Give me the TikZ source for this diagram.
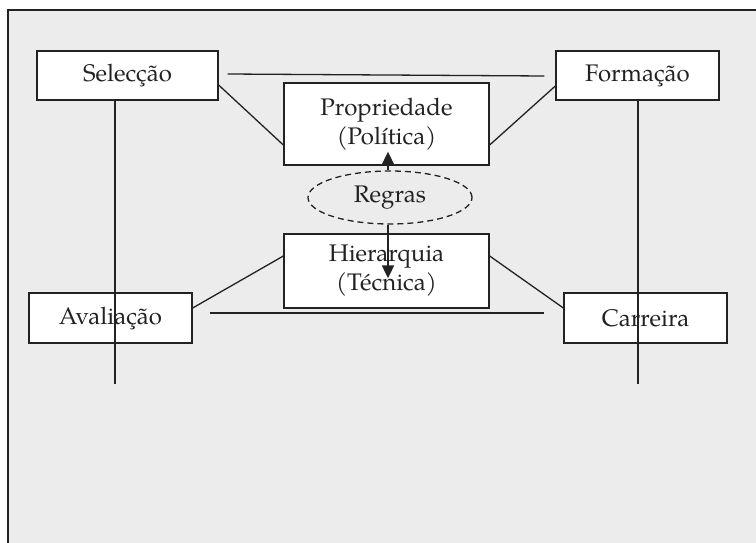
\documentclass[tikz,border=0pt]{standalone}
\usepackage{fontspec}
\setmainfont{TeX Gyre Pagella}
\usetikzlibrary{shapes.geometric,arrows.meta}
\definecolor{bggray}{HTML}{ECECEC}
\definecolor{ink}{HTML}{222222}
\tikzset{
  box/.style={draw=ink, fill=white, line width=1.3pt, inner sep=0pt, text=ink,
    font=\fontsize{24}{29}\selectfont, align=center},
  link/.style={draw=ink, line width=1.3pt},
  arr/.style={draw=ink, line width=1.8pt, -{Triangle[length=13pt,width=12pt]}},
}
\begin{document}
\begin{tikzpicture}[x=1pt,y=-1pt]
\useasboundingbox (0,0) rectangle (756,543);
% frame
\fill[bggray] (8,10) rectangle (756,543);
\draw[ink, line width=2pt] (756,10) -- (8,10) -- (8,543);
% nodes
\node[box, minimum width=181pt, minimum height=49pt] (sel) at (127.5,75.5) {Selecção};
\node[box, minimum width=163pt, minimum height=49pt] (form) at (637.5,75.5) {Formação};
\node[box, minimum width=205pt, minimum height=82pt] (prop) at (386.5,124) {Propriedade\\(Política)};
\node[box, minimum width=205pt, minimum height=74pt] (hier) at (386.5,271) {Hierarquia\\(Técnica)};
\node[box, minimum width=163pt, minimum height=50pt] (aval) at (110.5,318) {Avaliação};
\node[box, minimum width=163pt, minimum height=50pt] (carr) at (645.5,318) {Carreira};
\node[box, ellipse, dashed, dash pattern=on 6pt off 4pt, fill=none,
  minimum width=164pt, minimum height=53pt] (regras) at (390,197.5) {Regras};
% free ends of the vertical lines
\coordinate (lend) at (115,384);
\coordinate (rend) at (638,384);
% connectors
\draw[link] ([xshift=9pt,yshift=1.5pt]sel.east) -- ([xshift=-11pt,yshift=-0.5pt]form.west);
\draw[link] ([xshift=17pt,yshift=5pt]aval.east) -- ([xshift=-19pt,yshift=5pt]carr.west);
\draw[link] ([yshift=-9.5pt]sel.east) -- ([yshift=-21pt]prop.west);
\draw[link] ([yshift=-10.5pt]form.west) -- ([yshift=-21pt]prop.east);
\draw[link] ([yshift=15pt]hier.west) -- ([yshift=10pt]aval.east);
\draw[link] ([yshift=15pt]hier.east) -- ([yshift=10pt]carr.west);
\draw[link] (sel.south -| lend) -- (lend);
\draw[link] (form.south -| rend) -- (rend);
\draw[arr] ([xshift=-2pt]regras.north) -- ([xshift=-2pt,yshift=14pt]regras.north |- prop.south);
\draw[arr] ([xshift=-2pt]regras.south) -- ([xshift=-2pt,yshift=-45pt]regras.south |- hier.north);
\end{tikzpicture}
\end{document}
